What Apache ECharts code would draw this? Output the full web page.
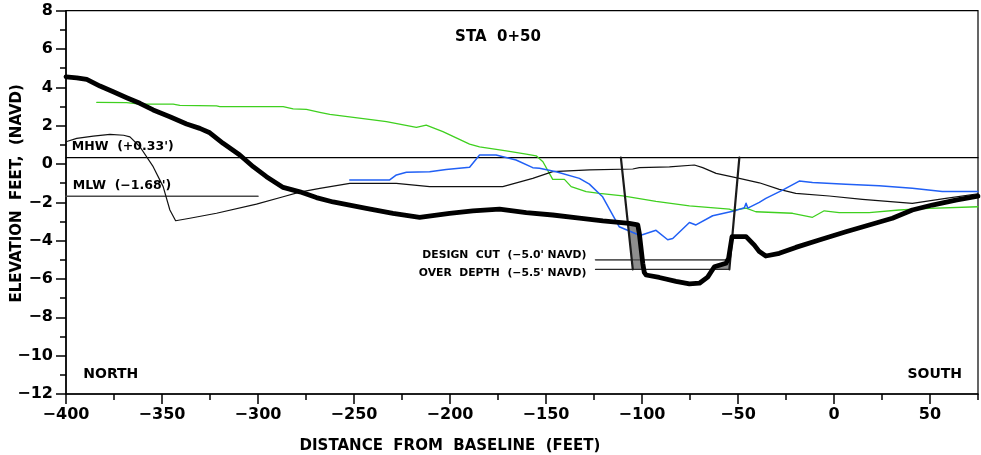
<!DOCTYPE html>
<html>
<head>
<meta charset="utf-8">
<script src="https://cdn.jsdelivr.net/npm/echarts@6/dist/echarts.min.js"></script>
<style>
  html, body { margin: 0; padding: 0; background: #fff; }
  #chart { width: 981px; height: 455px; }
</style>
</head>
<body>
<div id="chart"></div>
<script>
// Cross-section STA 0+50: points are [distance from baseline (ft), elevation (ft NAVD)]
const xRange = [-400, 75];
const yRange = [-12, 8];

const profileHeavy = [
  [-400, 4.55], [-394.4, 4.50], [-389.2, 4.42], [-382.3, 4.07], [-375.4, 3.77], [-368.4, 3.46],
  [-361.5, 3.17], [-354.6, 2.82], [-345.9, 2.47], [-337.2, 2.09], [-330.3, 1.86], [-325.1, 1.63],
  [-318.2, 1.08], [-309.5, 0.47], [-302.5, -0.14], [-295.6, -0.66], [-286.9, -1.22], [-278.2, -1.45],
  [-269.6, -1.75], [-260.9, -1.98], [-243.6, -2.31], [-229.7, -2.57], [-215.8, -2.78], [-200.2, -2.57],
  [-188.1, -2.45], [-174.2, -2.35], [-160.3, -2.54], [-146.5, -2.66], [-132.6, -2.82], [-120.4, -2.97],
  [-106.6, -3.10], [-102.2, -3.18], [-101.4, -3.62], [-99.6, -5.18], [-98.8, -5.66], [-97.9, -5.79],
  [-91.0, -5.92], [-82.3, -6.12], [-75.3, -6.25], [-70.1, -6.22], [-65.8, -5.90], [-62.3, -5.36],
  [-56.3, -5.18], [-54.9, -4.92], [-53.1, -3.79], [-45.8, -3.79], [-41.5, -4.23], [-38.9, -4.57],
  [-35.5, -4.80], [-28.5, -4.66], [-19.9, -4.35], [-7.7, -3.96], [6.2, -3.53], [18.3, -3.18],
  [30.4, -2.83], [40.8, -2.40], [51.2, -2.14], [63.4, -1.88], [75, -1.68]
];

const profileThin = [
  [-400, 1.16], [-394.4, 1.34], [-385.8, 1.46], [-377.1, 1.55], [-370, 1.50], [-366.7, 1.42],
  [-361.5, 0.90], [-354.6, -0.14], [-349.4, -1.18], [-345.9, -2.40], [-342.9, -2.96], [-335.5, -2.83],
  [-321.6, -2.57], [-300.8, -2.09], [-286.9, -1.71], [-278.3, -1.47], [-267.8, -1.27], [-252.2, -1.01],
  [-228, -1.01], [-210.6, -1.18], [-172.5, -1.18], [-156.9, -0.75], [-146.5, -0.40], [-127.4, -0.31],
  [-104.8, -0.26], [-101.4, -0.19], [-85.7, -0.15], [-72.7, -0.05], [-68.4, -0.19], [-61.4, -0.49],
  [-49.3, -0.75], [-38.9, -0.98], [-28.5, -1.32], [-19.9, -1.53], [-2.5, -1.67], [14.8, -1.84],
  [40.8, -2.05], [58.2, -1.79], [75, -1.55]
];

const profileGreen = [
  [-384, 3.22], [-368.4, 3.20], [-361.5, 3.13], [-344.2, 3.13], [-340.7, 3.06], [-321.6, 3.03],
  [-319.9, 2.99], [-286.9, 2.99], [-281.7, 2.88], [-274.8, 2.85], [-267.8, 2.70], [-262.6, 2.59],
  [-240.1, 2.30], [-233.1, 2.21], [-217.5, 1.91], [-212.4, 2.03], [-203.7, 1.69], [-189.8, 1.04],
  [-184.6, 0.90], [-170.7, 0.69], [-160.3, 0.52], [-155.1, 0.43], [-151.6, 0.12], [-146.5, -0.80],
  [-140.4, -0.80], [-136.9, -1.18], [-129.1, -1.44], [-122.2, -1.53], [-110, -1.66], [-92.7, -1.95],
  [-75.3, -2.18], [-54.5, -2.35], [-52.8, -2.42], [-45.8, -2.30], [-40.7, -2.49], [-21.6, -2.57],
  [-11.2, -2.78], [-5.1, -2.44], [2.7, -2.54], [18.3, -2.54], [33.9, -2.40], [49.5, -2.31], [75, -2.23]
];

const profileBlue = [
  [-252.2, -0.83], [-231.4, -0.83], [-227.9, -0.57], [-222.7, -0.43], [-210.6, -0.40], [-202, -0.28],
  [-189.8, -0.17], [-184.6, 0.47], [-176, 0.47], [-165.6, 0.21], [-156.9, -0.19], [-153.4, -0.22],
  [-144.7, -0.40], [-132.6, -0.75], [-127.4, -1.05], [-122.2, -1.55], [-120.5, -1.71], [-111.9, -3.27],
  [-101.0, -3.73], [-92.7, -3.46], [-86.6, -3.95], [-84.0, -3.89], [-75.3, -3.05], [-71.9, -3.18],
  [-63.2, -2.70], [-51.0, -2.42], [-46.7, -2.28], [-45.8, -2.05], [-44.9, -2.30], [-38.9, -2.0],
  [-35.5, -1.79], [-26.8, -1.36], [-18.1, -0.89], [-11.2, -0.96], [6.2, -1.06], [23.5, -1.13],
  [40.8, -1.27], [56.4, -1.44], [75, -1.44]
];

// Tidal datums
const mhwLine = [[-400, 0.33], [75, 0.33]];
const mlwLine = [[-400, -1.68], [-300, -1.68]];

// Channel template: side slopes, design cut and over-depth grades
const slopeLeft = [[-111.0, 0.33], [-104.8, -5.5]];
const slopeRight = [[-49.3, 0.33], [-54.5, -5.5]];
const designCut = [[-124.2, -5.0], [-54.05, -5.0]];
const overDepth = [[-124.2, -5.5], [-54.5, -5.5]];

// Material above the template (shaded)
const cutAreas = [
  [[-107.3, -3.15], [-102.2, -3.18], [-101.4, -3.62], [-99.6, -5.18], [-99.2, -5.5], [-104.8, -5.5]],
  [[-63.3, -5.5], [-62.3, -5.36], [-56.3, -5.18], [-54.2, -5.18], [-54.5, -5.5]]
];

// Annotations: [x, y, text, label side, font size]
const notes = [
  [-175, 6.62, 'STA  0+50', 'inside', 15],
  [-397, 0.90, 'MHW  (+0.33\')', 'right', 12.5],
  [-396.5, -1.13, 'MLW  (\u22121.68\')', 'right', 12.5],
  [-391, -10.95, 'NORTH', 'right', 14],
  [66.7, -10.95, 'SOUTH', 'left', 14],
  [-128.9, -4.75, 'DESIGN  CUT  (\u22125.0\' NAVD)', 'left', 10.8],
  [-128.9, -5.69, 'OVER  DEPTH  (\u22125.5\' NAVD)', 'left', 10.8]
];

const FONT = 'DejaVu Sans';
const minus = v => String(v).replace('-', '\u2212');

function lineSeries(name, data, color, width, z) {
  return {
    name, type: 'line', data, symbol: 'none', z,
    lineStyle: { color, width, cap: 'round', join: 'round' },
    animation: false, silent: true
  };
}

const chart = echarts.init(document.getElementById('chart'), null, { renderer: 'canvas' });

chart.setOption({
  backgroundColor: '#fff',
  animation: false,
  grid: {
    left: 66, right: 3, top: 10.7, bottom: 61,
    outerBoundsMode: 'none', containLabel: false,
    show: true, borderColor: '#000', borderWidth: 1.2, backgroundColor: 'transparent'
  },
  xAxis: [
    {
      type: 'value', min: xRange[0], max: xRange[1], interval: 50, position: 'bottom',
      axisLine: { show: true, onZero: false, lineStyle: { color: '#000', width: 1.5 } },
      axisTick: { show: true, length: 10, lineStyle: { color: '#000', width: 1.5 } },
      splitLine: { show: false },
      axisLabel: {
        color: '#000', fontFamily: FONT, fontSize: 16, fontWeight: 'bold', margin: 13,
        showMaxLabel: false, formatter: minus
      },
      name: 'DISTANCE  FROM  BASELINE  (FEET)', nameLocation: 'middle', nameGap: 45,
      nameMoveOverlap: false,
      nameTextStyle: { color: '#000', fontFamily: FONT, fontSize: 15, fontWeight: 'bold', padding: [0, 144, 0, 0] }
    },
    {
      type: 'value', min: xRange[0], max: xRange[1], interval: 25, position: 'bottom',
      axisLine: { show: false, onZero: false },
      axisTick: { show: true, length: 6, lineStyle: { color: '#000', width: 1.5 } },
      axisLabel: { show: false },
      splitLine: { show: false }
    }
  ],
  yAxis: {
    type: 'value', min: yRange[0], max: yRange[1], interval: 2, position: 'left',
    axisLine: { show: true, onZero: false, lineStyle: { color: '#000', width: 1.5 } },
    axisTick: { show: true, length: 10, lineStyle: { color: '#000', width: 1.5 } },
    minorTick: { show: true, splitNumber: 2, length: 6, lineStyle: { color: '#000', width: 1.5 } },
    splitLine: { show: false },
    minorSplitLine: { show: false },
    axisLabel: { color: '#000', fontFamily: FONT, fontSize: 16, fontWeight: 'bold', margin: 13, formatter: minus },
    name: 'ELEVATION  FEET,  (NAVD)', nameLocation: 'middle', nameGap: 41, nameRotate: 90,
    nameMoveOverlap: false,
    nameTextStyle: { color: '#000', fontFamily: FONT, fontSize: 15, fontWeight: 'bold', padding: [0, 0, 0, 18] }
  },
  series: [
    {
      name: 'cut', type: 'custom', z: 1, silent: true,
      data: cutAreas.map(p => p[0]),
      renderItem: (params, api) => ({
        type: 'polygon',
        shape: { points: cutAreas[params.dataIndex].map(p => api.coord(p)) },
        style: { fill: '#8e8e8e', stroke: '#8e8e8e', lineWidth: 0.5 }
      })
    },
    lineSeries('MHW', mhwLine, '#000', 1.2, 2),
    lineSeries('MLW', mlwLine, '#4a4a4a', 1.6, 2),
    lineSeries('design cut', designCut, '#5a5a5a', 1.6, 2),
    lineSeries('over depth', overDepth, '#2a2a2a', 1.3, 2),
    lineSeries('green', profileGreen, '#3fd01f', 1.3, 3),
    lineSeries('thin', profileThin, '#111', 1.2, 3),
    lineSeries('blue', profileBlue, '#2160f5', 1.5, 4),
    lineSeries('slope left', slopeLeft, '#1a1a1a', 2.2, 5),
    lineSeries('slope right', slopeRight, '#1a1a1a', 2.2, 5),
    lineSeries('heavy', profileHeavy, '#000', 4.8, 6),
    {
      name: 'notes', type: 'scatter', symbolSize: 0, z: 7, silent: true,
      itemStyle: { opacity: 1 },
      data: notes.map(n => ({
        value: [n[0], n[1]],
        label: {
          show: true, formatter: n[2], position: n[3], distance: 0, opacity: 1,
          color: '#000', fontFamily: FONT, fontSize: n[4], fontWeight: 'bold'
        }
      }))
    }
  ]
});
</script>
</body>
</html>
